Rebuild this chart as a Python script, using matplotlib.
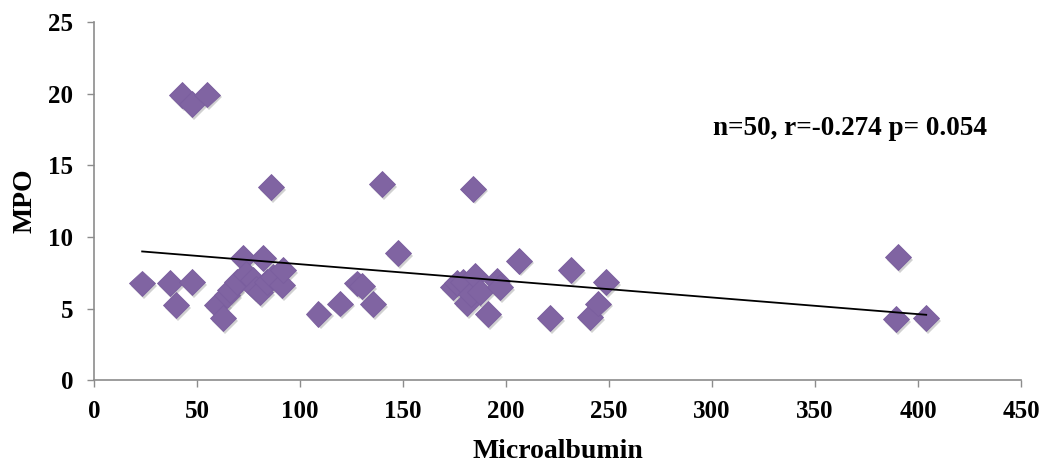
import numpy as np
import matplotlib
matplotlib.use("Agg")
import matplotlib.pyplot as plt
import matplotlib.patheffects as pe

# Microalbumin vs MPO measurements (n = 50)
microalbumin = [
    23.4, 36.9, 39.8, 42.6, 47.4, 47.4, 55.0, 59.5, 62.7, 64.4,
    66.0, 69.3, 72.5, 74.0, 77.3, 78.5, 80.6, 82.2, 83.8, 85.9,
    87.0, 91.1, 91.9, 109.0, 119.5, 127.5, 130.0, 135.6, 139.7, 147.7,
    174.4, 176.0, 179.3, 180.9, 183.0, 184.1, 185.0, 187.4, 191.3, 195.5,
    197.0, 206.3, 221.4, 231.6, 240.8, 244.8, 248.5, 389.3, 390.1, 404.0,
]
mpo = [
    6.75, 6.80, 5.24, 19.90, 19.30, 6.87, 19.95, 5.24, 4.31, 5.94,
    6.30, 6.87, 8.50, 7.40, 6.98, 6.40, 6.17, 8.56, 6.87, 13.50,
    7.22, 6.63, 7.68, 4.65, 5.35, 6.75, 6.55, 5.30, 13.69, 8.89,
    6.52, 6.80, 6.87, 5.40, 6.00, 13.38, 7.30, 6.17, 4.60, 6.90,
    6.50, 8.35, 4.35, 7.68, 4.42, 5.35, 6.87, 4.26, 8.57, 4.31,
]
stats_label = "n=50, r=-0.274 p= 0.054"
x_ticks = [0, 50, 100, 150, 200, 250, 300, 350, 400, 450]
y_ticks = [0, 5, 10, 15, 20, 25]

plt.rcParams["font.family"] = ["Liberation Serif", "DejaVu Serif"]
plt.rcParams["font.weight"] = "bold"

fig = plt.figure(figsize=(10.58, 4.63), dpi=100)
ax = fig.add_axes([0.0888, 0.179, 0.8762, 0.773])

x = np.array(microalbumin)
y = np.array(mpo)

ax.plot(x, y, linestyle="none", marker="D", markersize=13.2,
        markerfacecolor="#8064A2", markeredgecolor="#7A5E9E", markeredgewidth=0.6,
        zorder=3,
        path_effects=[pe.SimplePatchShadow(offset=(1.5, -2), shadow_rgbFace="#9a9a9a", alpha=0.45),
                      pe.Normal()])

# Linear trend line across the data range
slope, intercept = np.polyfit(x, y, 1)
xs = np.array([x.min(), x.max()])
ax.plot(xs, slope * xs + intercept, color="black", linewidth=1.3, zorder=4)

ax.set_xlim(0, 450)
ax.set_ylim(0, 25)
ax.set_xticks(x_ticks)
ax.set_yticks(y_ticks)
ax.tick_params(axis="both", direction="out", length=5, width=1, color="#8c8c8c",
               labelsize=18)
ax.tick_params(axis="x", pad=9)
ax.tick_params(axis="y", pad=10)
for lbl in ax.get_xticklabels() + ax.get_yticklabels():
    lbl.set_fontweight("bold")

for side in ("top", "right"):
    ax.spines[side].set_visible(False)
for side in ("left", "bottom"):
    ax.spines[side].set_color("#8c8c8c")
    ax.spines[side].set_linewidth(1.2)

ax.set_xlabel("Microalbumin", fontsize=20, fontweight="bold", labelpad=12)
ax.set_ylabel("MPO", fontsize=20, fontweight="bold", labelpad=8)

ax.text(367, 17.6, stats_label, ha="center", va="center", fontsize=19.5, fontweight="bold")

fig.savefig("out.png", dpi=100)
